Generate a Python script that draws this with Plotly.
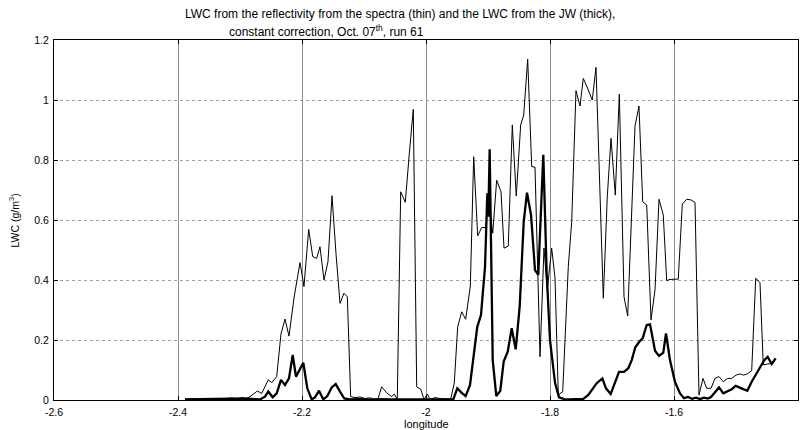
import plotly.graph_objects as go

# LWC derived from spectra reflectivity (thin line)
lon_spec = [
    -2.3887, -2.3726, -2.3565, -2.3403, -2.3242, -2.3129, -2.3048, -2.2968, -2.2903, -2.2839,
    -2.2721, -2.2650, -2.2544, -2.2489, -2.2408, -2.2339, -2.2274, -2.2210, -2.2129, -2.2085,
    -2.2032, -2.1968, -2.1892, -2.1827, -2.1763, -2.1710, -2.1645, -2.1581, -2.1516, -2.1452,
    -2.1387, -2.1323, -2.1269, -2.1215, -2.1145, -2.1065, -2.0984, -2.0903, -2.0823, -2.0774,
    -2.0715, -2.0634, -2.0553, -2.0511, -2.0463, -2.0408, -2.0334, -2.0269, -2.0205, -2.0150,
    -2.0085, -2.0032, -1.9979, -1.9935, -1.9855, -1.9774, -1.9694, -1.9602, -1.9544, -1.9489,
    -1.9424, -1.9360, -1.9285, -1.9231, -1.9166, -1.9102, -1.9037, -1.8995, -1.8924, -1.8860,
    -1.8790, -1.8742, -1.8673, -1.8608, -1.8544, -1.8473, -1.8424, -1.8360, -1.8295, -1.8242,
    -1.8161, -1.8097, -1.8044, -1.7973, -1.7919, -1.7866, -1.7795, -1.7705, -1.7650, -1.7581,
    -1.7516, -1.7463, -1.7395, -1.7318, -1.7258, -1.7140, -1.7076, -1.7016, -1.6947, -1.6882,
    -1.6806, -1.6747, -1.6629, -1.6565, -1.6505, -1.6440, -1.6371, -1.6306, -1.6242, -1.6173,
    -1.6118, -1.6065, -1.5931, -1.5866, -1.5795, -1.5726, -1.5661, -1.5597, -1.5532, -1.5473,
    -1.5403, -1.5339, -1.5274, -1.5205, -1.5134, -1.5069, -1.5000, -1.4935, -1.4882, -1.4818,
    -1.4747, -1.4682, -1.4613, -1.4560, -1.4489, -1.4424, -1.4371,
]
lwc_spec = [
    0.003, 0.004, 0.005, 0.005, 0.004, 0.007, 0.003, 0.008, 0.004, 0.011,
    0.030, 0.022, 0.067, 0.058, 0.078, 0.220, 0.270, 0.213, 0.340, 0.400,
    0.458, 0.378, 0.569, 0.478, 0.472, 0.511, 0.400, 0.461, 0.681, 0.489,
    0.322, 0.356, 0.344, 0.011, 0.008, 0.010, 0.005, 0.007, 0.002, 0.004,
    0.044, 0.024, 0.011, 0.020, 0.002, 0.694, 0.659, 0.822, 0.969, 0.044,
    0.036, 0.002, 0.020, 0.002, 0.008, 0.005, 0.004, 0.003, 0.056, 0.244,
    0.294, 0.269, 0.380, 0.811, 0.547, 0.575, 0.575, 0.678, 0.556, 0.733,
    0.694, 0.506, 0.513, 0.917, 0.680, 0.917, 0.950, 1.136, 0.778, 0.776,
    0.144, 0.507, 0.367, 0.506, 0.406, 0.017, 0.028, 0.444, 0.594, 1.031,
    0.980, 1.072, 1.040, 1.000, 1.109, 0.339, 0.678, 0.872, 0.683, 1.020,
    0.344, 0.280, 0.913, 0.980, 0.661, 0.650, 0.267, 0.367, 0.669, 0.617,
    0.398, 0.402, 0.403, 0.653, 0.669, 0.667, 0.658, 0.017, 0.072, 0.039,
    0.039, 0.072, 0.078, 0.061, 0.072, 0.072, 0.083, 0.087, 0.083, 0.087,
    0.098, 0.406, 0.391, 0.117, 0.120, 0.122, 0.139,
]

# LWC measured by the JW probe (thick line)
lon_jw = [
    -2.3887, -2.3645, -2.3403, -2.3161, -2.2919, -2.2758, -2.2677, -2.2597, -2.2544, -2.2473,
    -2.2408, -2.2339, -2.2274, -2.2210, -2.2150, -2.2097, -2.2032, -2.1979, -2.1915, -2.1844,
    -2.1790, -2.1726, -2.1656, -2.1592, -2.1521, -2.1456, -2.1387, -2.1318, -2.1226, -2.1065,
    -2.0903, -2.0742, -2.0581, -2.0419, -2.0258, -2.0097, -1.9935, -1.9774, -1.9560, -1.9495,
    -1.9424, -1.9360, -1.9290, -1.9237, -1.9173, -1.9113, -1.9048, -1.9011, -1.8995, -1.8973,
    -1.8924, -1.8866, -1.8802, -1.8747, -1.8682, -1.8618, -1.8553, -1.8489, -1.8424, -1.8371,
    -1.8306, -1.8242, -1.8189, -1.8108, -1.8053, -1.8000, -1.7919, -1.7855, -1.7774, -1.7705,
    -1.7597, -1.7463, -1.7382, -1.7311, -1.7247, -1.7156, -1.7097, -1.7021, -1.6952, -1.6887,
    -1.6806, -1.6737, -1.6682, -1.6624, -1.6560, -1.6505, -1.6440, -1.6387, -1.6306, -1.6242,
    -1.6173, -1.6129, -1.6065, -1.5984, -1.5903, -1.5839, -1.5774, -1.5710, -1.5645, -1.5581,
    -1.5516, -1.5452, -1.5403, -1.5339, -1.5274, -1.5205, -1.5134, -1.5069, -1.5005, -1.4935,
    -1.4871, -1.4818, -1.4747, -1.4666, -1.4597, -1.4544, -1.4489, -1.4424, -1.4360,
]
lwc_jw = [
    0.002, 0.003, 0.004, 0.003, 0.005, 0.003, 0.002, 0.011, 0.028, 0.009,
    0.022, 0.067, 0.050, 0.072, 0.150, 0.078, 0.106, 0.124, 0.039, 0.002,
    0.009, 0.031, 0.002, 0.013, 0.042, 0.053, 0.028, 0.005, 0.002, 0.003,
    0.001, 0.003, 0.002, 0.001, 0.002, 0.002, 0.003, 0.002, 0.002, 0.039,
    0.024, 0.013, 0.050, 0.144, 0.244, 0.283, 0.444, 0.689, 0.611, 0.836,
    0.133, 0.013, 0.031, 0.128, 0.161, 0.239, 0.169, 0.311, 0.594, 0.691,
    0.617, 0.433, 0.417, 0.817, 0.420, 0.200, 0.057, 0.009, 0.003, 0.002,
    0.003, 0.004, 0.017, 0.039, 0.056, 0.072, 0.039, 0.020, 0.061, 0.094,
    0.094, 0.106, 0.133, 0.176, 0.194, 0.206, 0.250, 0.252, 0.164, 0.147,
    0.158, 0.222, 0.133, 0.060, 0.022, 0.006, 0.010, 0.004, 0.008, 0.003,
    0.008, 0.005, 0.010, 0.025, 0.042, 0.022, 0.030, 0.036, 0.047, 0.040,
    0.036, 0.031, 0.061, 0.089, 0.117, 0.133, 0.144, 0.120, 0.139,
]

x_ticks = [-2.6, -2.4, -2.2, -2.0, -1.8, -1.6, -1.4]
x_tick_labels = ["-2.6", "-2.4", "-2.2", "-2", "-1.8", "-1.6", "-1.4"]
y_ticks = [0, 0.2, 0.4, 0.6, 0.8, 1.0, 1.2]
y_tick_labels = ["0", "0.2", "0.4", "0.6", "0.8", "1", "1.2"]

FONT = "Liberation Sans, Arial, sans-serif"
FS = 10.5

fig = go.Figure()
fig.add_trace(go.Scatter(x=lon_spec, y=lwc_spec, mode="lines",
                         line=dict(color="black", width=1), showlegend=False))
fig.add_trace(go.Scatter(x=lon_jw, y=lwc_jw, mode="lines",
                         line=dict(color="black", width=2.3), showlegend=False))

axis_common = dict(
    showline=True, linecolor="black", linewidth=1, mirror="ticks",
    ticks="inside", ticklen=4, tickcolor="black", zeroline=False,
    tickfont=dict(family=FONT, size=FS, color="black"),
)

fig.update_layout(
    width=807, height=430,
    margin=dict(l=54, r=9, t=40, b=30),
    paper_bgcolor="white", plot_bgcolor="white",
    font=dict(family=FONT, size=FS, color="black"),
    xaxis=dict(range=[-2.6, -1.4], tickvals=x_ticks, ticktext=x_tick_labels,
               showgrid=True, gridcolor="#8c8c8c", gridwidth=1,
               ticklabelstandoff=2, **axis_common),
    yaxis=dict(range=[0, 1.2], tickvals=y_ticks, ticktext=y_tick_labels,
               showgrid=True, gridcolor="#a0a0a0", gridwidth=1, griddash="dot",
               ticklabelstandoff=2, **axis_common),
    annotations=[
        dict(text="LWC from the reflectivity from the spectra (thin) and the LWC from the JW (thick),",
             xref="paper", yref="paper", x=0.465, y=1.072, xanchor="center", yanchor="middle",
             showarrow=False, font=dict(family=FONT, size=12)),
        dict(text="constant correction, Oct. 07<sup>th</sup>, run 61",
             xref="paper", yref="paper", x=0.2325, y=1.026, xanchor="left", yanchor="middle",
             showarrow=False, font=dict(family=FONT, size=12)),
        dict(text="longitude", xref="paper", yref="paper", x=0.5, y=-0.068,
             xanchor="center", yanchor="middle", showarrow=False, font=dict(family=FONT, size=11)),
        dict(text="LWC (g/m<sup>3</sup>)", xref="paper", yref="paper", x=-0.0545, y=0.5,
             xanchor="center", yanchor="middle", textangle=-90, showarrow=False,
             font=dict(family=FONT, size=FS)),
    ],
)

fig.write_html("out.html")
